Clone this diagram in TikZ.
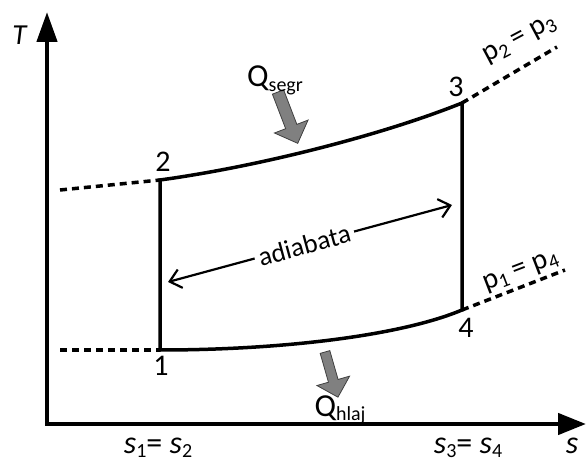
\documentclass[tikz,border=0pt]{standalone}
\usepackage{fontspec}
\setmainfont{Carlito}
\usetikzlibrary{arrows.meta}
\newcommand\lowsub[1]{\raisebox{-0.3ex}{\fontsize{20}{20}\selectfont #1}}
\begin{document}
\begin{tikzpicture}[x=1pt,y=-1pt,
  font=\fontsize{30}{34}\selectfont,
  axis/.style={line width=4.5pt, line join=miter, {Triangle[length=30pt,width=20pt]}-{Triangle[length=28pt,width=21pt]}},
  cyc/.style={line width=3.5pt, line join=miter},
  dashline/.style={line width=3.5pt, dash pattern=on 7pt off 5pt},
  lbl/.style={inner sep=0pt, anchor=base},
  slbl/.style={lbl, font=\fontsize{32}{36}\selectfont},
  heat/.style={fill=black!50, draw=black!75, line width=0.8pt, line join=miter},
  adarrow/.style={line width=2.2pt, {Straight Barb[length=11pt,width=19pt]}-{Straight Barb[length=11pt,width=19pt]}}]
\useasboundingbox (0,0) rectangle (586,462);
% axes
\coordinate (O) at (47,424);
\coordinate (Ttip) at (47,12);
\coordinate (stip) at (586,424);
\draw[axis] (Ttip) -- (O) -- (stip);
\node[lbl, font=\fontsize{29}{32}\selectfont] (tT) at (20,45) {\textit{T}};
\node[slbl] (ts) at (572,453) {\textit{s}};
\node[slbl] (s12) at (158,453) {\textit{s}\lowsub{1}= \textit{s}\lowsub{2}};
\node[slbl] (s34) at (468,453) {\textit{s}\lowsub{3}= \textit{s}\lowsub{4}};
% cycle points
\coordinate (p1) at (160,350);
\coordinate (p2) at (160,180);
\coordinate (p3) at (462,103);
\coordinate (p4) at (462,310);
\draw[cyc] (p1) -- (p2) .. controls (262,166) and (385,134) .. (p3) -- (p4)
  .. controls (400,336) and (280,350) .. cycle;
% isobars (dashed)
\coordinate (e2) at (60,190);
\coordinate (e1) at (60,350);
\coordinate (e3) at (557,47);
\coordinate (e4) at (565,270);
\draw[dashline] (e2) -- (p2);
\draw[dashline] (e1) -- (p1);
\draw[dashline] (p3) -- (e3);
\draw[dashline] (p4) -- (e4);
% point labels
\node[lbl] (n1) at (161,375) {1};
\node[lbl] (n2) at (163,172) {2};
\node[lbl] (n3) at (456,97) {3};
\node[lbl] (n4) at (466,337) {4};
% pressure labels
\node[rotate=28, inner sep=0pt, font=\fontsize{29}{32}\selectfont] (p23) at (520,40) {p\lowsub{2} = p\lowsub{3}};
\node[rotate=21, inner sep=0pt, font=\fontsize{29}{32}\selectfont] (p14) at (521,272) {p\lowsub{1} = p\lowsub{4}};
% adiabata arrow
\coordinate (aL) at (168,282);
\coordinate (aR) at (452,205);
\draw[adarrow] (aL) -- node[pos=0.48, sloped, fill=white, inner sep=4pt, font=\fontsize{27}{30}\selectfont] (adtxt) {adiabata} (aR);
% heat arrows
\begin{scope}[shift={(278,92)}, rotate=21]
  \draw[heat] (-6,0) -- (6,0) -- (6,37) -- (18,37) -- (0,55) -- (-18,37) -- (-6,37) -- cycle;
\end{scope}
\begin{scope}[shift={(325,352)}, rotate=16]
  \draw[heat] (-5,0) -- (5,0) -- (5,30) -- (17,30) -- (0,47) -- (-17,30) -- (-5,30) -- cycle;
\end{scope}
\node[lbl, font=\fontsize{32}{36}\selectfont] (qs) at (275,87) {Q\lowsub{segr}};
\node[lbl, font=\fontsize{32}{36}\selectfont] (qh) at (340,416) {Q\lowsub{hlaj}};
\end{tikzpicture}
\end{document}
